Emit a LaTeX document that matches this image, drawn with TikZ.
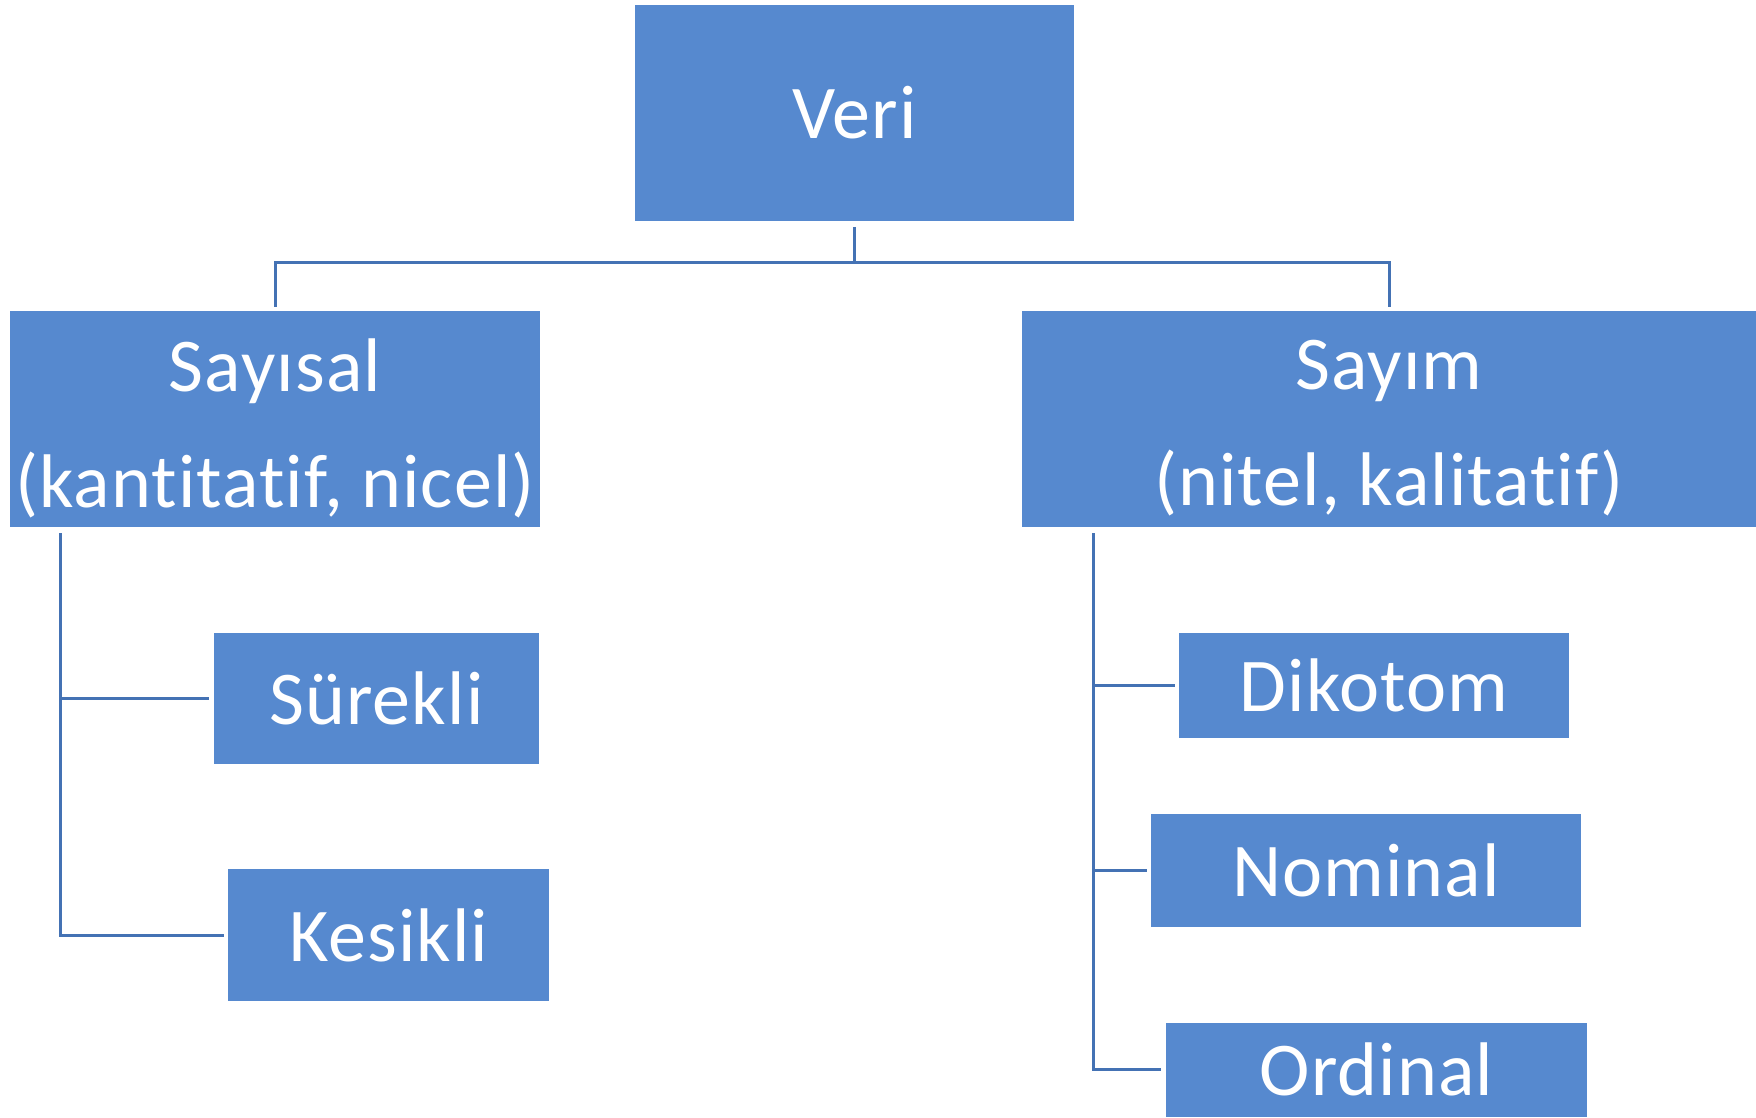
\documentclass[tikz,border=0pt]{standalone}
\usepackage{fontspec}
\setmainfont{Carlito}[Ligatures={NoCommon},LetterSpace=1.5]
\definecolor{boxfill}{RGB}{86,137,207}
\definecolor{linec}{RGB}{68,114,180}
\begin{document}
\begin{tikzpicture}[x=1pt,y=-1pt,
  box/.style={fill=boxfill, draw=none, inner sep=0pt, text=white,
    font=\fontsize{76}{116}\selectfont, align=center},
  label text/.style={inner sep=0pt, text=white,
    font=\fontsize{76}{116}\selectfont, align=center},
  conn/.style={draw=linec, line width=3pt, line join=miter}]
\useasboundingbox (0,0) rectangle (1756,1117);
\clip (0,0) rectangle (1756,1117);
\node[box, minimum width=439pt, minimum height=216pt] (veri) at (854.5,112.6) {Veri};
\node[box, minimum width=530pt, minimum height=216pt] (sayisal) at (275,419) {};
\node[label text] (sayisalt) at ([yshift=-9pt]sayisal.center) {Sayısal\\(kantitatif, nicel)};
\node[box, minimum width=734pt, minimum height=216pt] (sayim) at (1389,419) {};
\node[label text] (sayimt) at ([yshift=-9pt]sayim.center) {Sayım\\(nitel, kalitatif)};
\node[box, minimum width=325pt, minimum height=131pt] (surekli) at (376.5,698.5) {Sürekli};
\node[box, minimum width=320.5pt, minimum height=132pt] (kesikli) at (388.7,935) {Kesikli};
\node[box, minimum width=390pt, minimum height=105pt] (dikotom) at (1374,685.5) {Dikotom};
\node[box, minimum width=430pt, minimum height=113pt] (nominal) at (1366,870.5) {Nominal};
\node[box, minimum width=421pt, minimum height=94pt] (ordinal) at (1376.5,1069.5) {Ordinal};
\coordinate (bus) at (854.5,262);
\coordinate (ltop) at (60.5,533);
\coordinate (rtop) at (1093,533);
\draw[conn] ([yshift=-6pt]veri.south) -- (bus);
\draw[conn] ([yshift=4pt]sayisal.north) |- (bus) -| ([yshift=4pt]sayim.north);
\draw[conn] (ltop) |- ([xshift=-5pt]surekli.west);
\draw[conn] (ltop) |- ([xshift=-4pt]kesikli.west);
\draw[conn] (rtop) |- ([xshift=-4pt]dikotom.west);
\draw[conn] (rtop) |- ([xshift=-4pt]nominal.west);
\draw[conn] (rtop) |- ([xshift=-5pt]ordinal.west);
\end{tikzpicture}
\end{document}
